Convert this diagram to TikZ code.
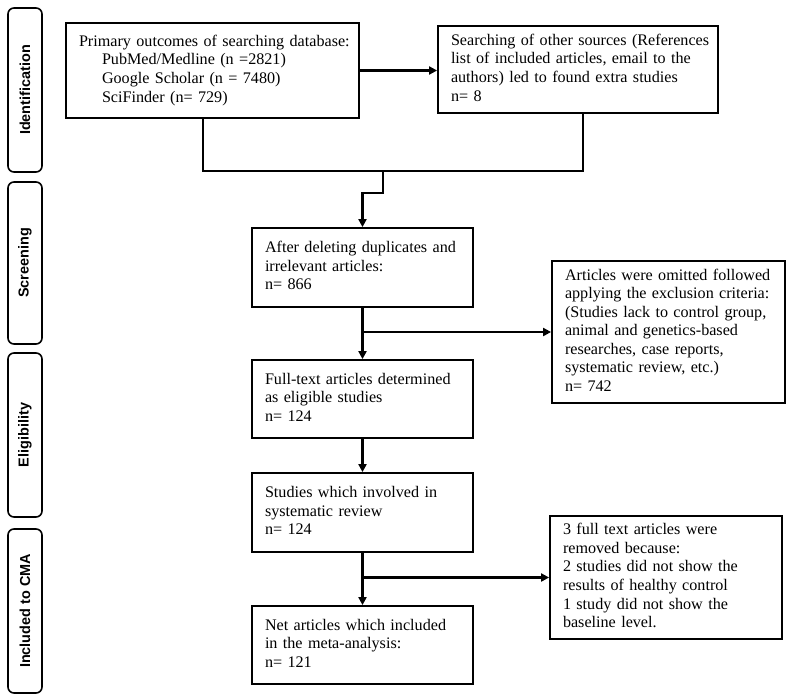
\documentclass[tikz,border=0pt]{standalone}
\usepackage{fontspec}
\setmainfont{Liberation Serif}
\newfontfamily\sidefont{Liberation Sans}
\usetikzlibrary{arrows.meta,positioning,calc}
\tikzset{
  box/.style={draw, line width=1.8bp, align=left, inner xsep=13bp, inner ysep=0bp,
    font=\fontsize{16.2}{18.6}\selectfont, anchor=center},
  side/.style={draw, line width=1.6bp, rounded corners=6bp, rotate=90,
    minimum height=34bp, inner sep=0bp,
    font=\sidefont\bfseries\fontsize{14.5}{16}\selectfont},
  conn/.style={line width=2.8bp},
  arr/.style={line width=2.4bp, -{Triangle[length=8bp,width=8bp]}},
}
\begin{document}
\begin{tikzpicture}[x=1bp,y=-1bp]
\useasboundingbox (0,0) rectangle (789,697);
% side labels
\node[side, minimum width=164bp] (sid) at (25,90) {Identification};
\node[side, minimum width=162bp] (ssc) at (25,263) {Screening};
\node[side, minimum width=164bp] (sel) at (25,435) {Eligibility};
\node[side, minimum width=164bp] (sin) at (25,611) {Included to CMA};
% boxes
\node[box, text width=267bp, minimum height=95bp] (b1) at (212.5,70.5)
 {\begin{tabular}{@{}l@{}}Primary outcomes of searching database:\\
  \hspace*{23bp}PubMed/Medline (n =2821)\\
  \hspace*{23bp}Google Scholar (n = 7480)\\
  \hspace*{23bp}SciFinder (n= 729)\end{tabular}};
\node[box, text width=254bp, minimum height=87bp] (b2) at (578,69.5)
 {\begin{tabular}{@{}l@{}}Searching of other sources (References\\
  list of included articles, email to the\\
  authors) led to found extra studies\\
  n= 8\end{tabular}};
\node[box, text width=195bp, minimum height=79bp] (b3) at (362.5,267.5)
 {\begin{tabular}{@{}l@{}}After deleting duplicates and\\
  irrelevant articles:\\
  n= 866\end{tabular}};
\node[box, text width=207bp, minimum height=142bp] (b5) at (668.5,332)
 {\begin{tabular}{@{}l@{}}Articles were omitted followed\\
  applying the exclusion criteria:\\
  (Studies lack to control group,\\
  animal and genetics-based\\
  researches, case reports,\\
  systematic review, etc.)\\
  n= 742\end{tabular}};
\node[box, text width=195bp, minimum height=78bp] (b4) at (362.5,399)
 {\begin{tabular}{@{}l@{}}Full-text articles determined\\
  as eligible studies\\
  n= 124\end{tabular}};
\node[box, text width=195bp, minimum height=79bp] (b6) at (362.5,512.5)
 {\begin{tabular}{@{}l@{}}Studies which involved in\\
  systematic review\\
  n= 124\end{tabular}};
\node[box, text width=206bp, minimum height=123bp] (b8) at (666,577.5)
 {\begin{tabular}{@{}l@{}}3 full text articles were\\
  removed because:\\
  2 studies did not show the\\
  results of healthy control\\
  1 study did not show the\\
  baseline level.\end{tabular}};
\node[box, text width=195bp, minimum height=78bp] (b7) at (362.5,645)
 {\begin{tabular}{@{}l@{}}Net articles which included\\
  in the meta-analysis:\\
  n= 121\end{tabular}};
% connectors
\coordinate (j1) at (383,171);
\coordinate (j2) at (383,193);
\draw[arr] (b1.east) -- (b1.east -| b2.west);
\draw[conn] ([xshift=-9.5bp]b1.south) |- (j1);
\draw[conn] ([xshift=5bp]b2.south) |- (j1);
\draw[arr] (j1) -- (j2) -| (b3.north);
\draw[arr] (b3.south) -- (b4.north);
\draw[arr] (b3.south |- b5.west) -- (b5.west);
\draw[arr] (b4.south) -- (b6.north);
\draw[arr] (b6.south) -- (b7.north);
\draw[arr] (b6.south |- b8.west) -- (b8.west);
\end{tikzpicture}
\end{document}
